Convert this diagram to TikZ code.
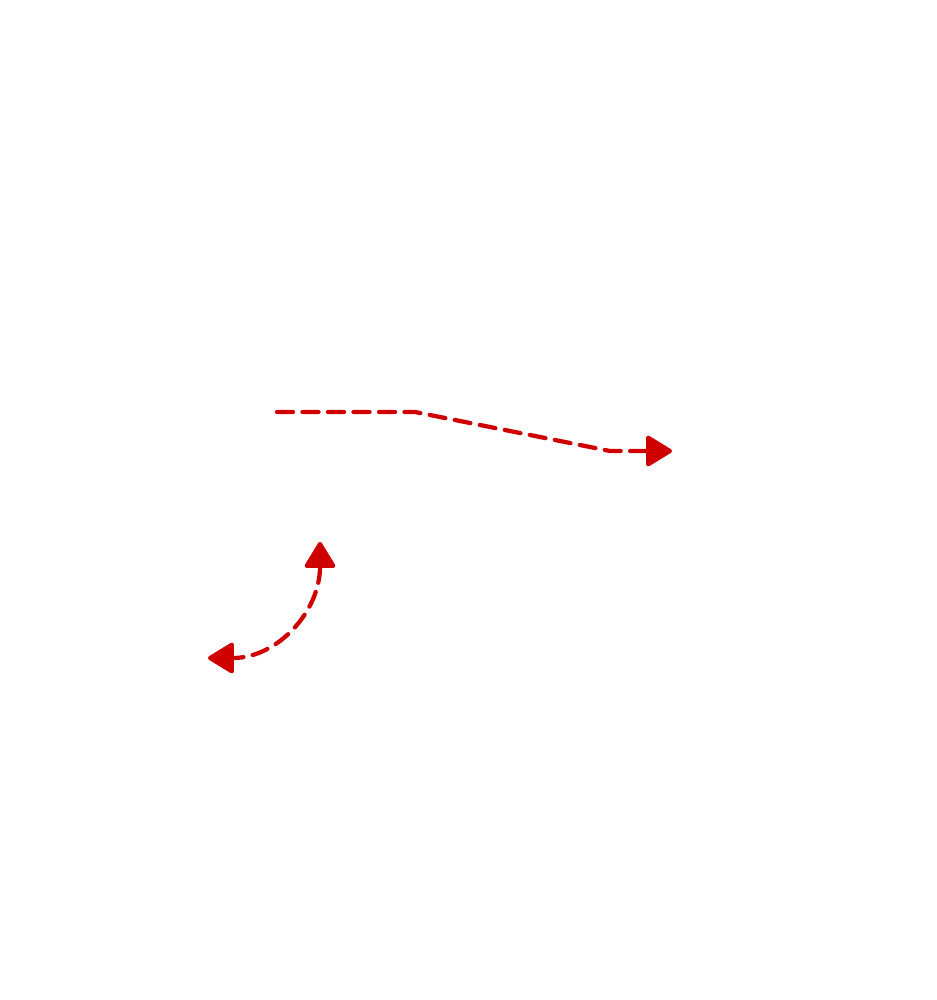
\documentclass[tikz,border=0pt]{standalone}
\usepackage{xcolor}
\usepackage{tikz}
\usetikzlibrary{arrows.meta}
\definecolor{signal}{HTML}{CF0000}

\begin{document}
\begin{tikzpicture}[x=0.2mm, y=-0.2mm, redtip/.tip={Triangle[length=5.6mm,width=6.6mm,round]}, flow/.style={draw=signal,line width=0.85mm,line cap=round,line join=round,dash pattern=on 3.2mm off 1.9mm}]
    \useasboundingbox (0,0) rectangle (937,1000);
    \coordinate (start) at (277,412);
    \coordinate (knee) at (415,412);
    \coordinate (drop) at (610,451);
    \coordinate (goal) at (672,451);
    \coordinate (top) at (320,542);
    \coordinate (left) at (208,658);
    \draw[flow,-redtip] (start) -- (knee) -- (drop) -- (goal);
    \draw[flow,redtip-redtip] (top) to[out=-90,in=0,looseness=1.1] (left);
  \end{tikzpicture}
\end{document}
